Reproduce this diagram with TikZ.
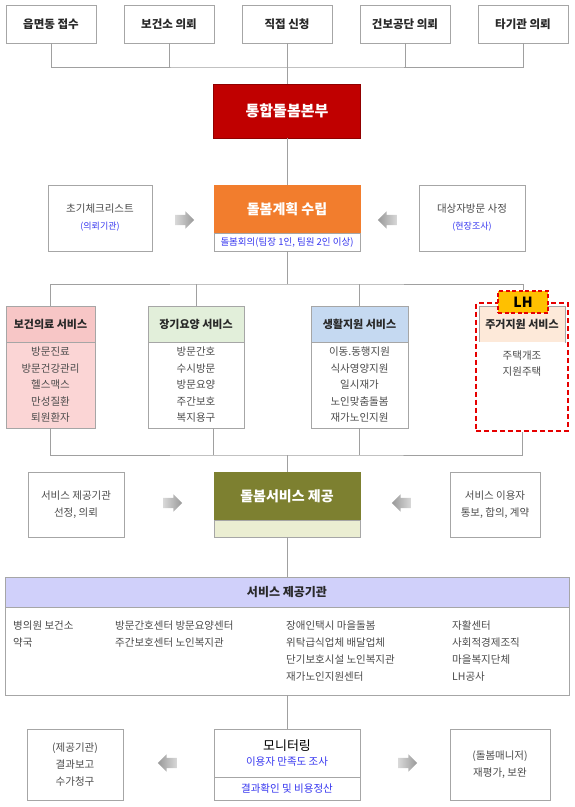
\documentclass[tikz,border=0pt]{standalone}
\usepackage{fontspec}
\setmainfont{Noto Sans CJK KR}
\usetikzlibrary{shapes,arrows,fit}

\definecolor{boxgray}{RGB}{166,166,166}
\definecolor{linegray}{RGB}{160,160,160}
\definecolor{txtdark}{RGB}{40,40,40}
\definecolor{txtgray}{RGB}{75,75,75}
\definecolor{bluetxt}{RGB}{55,55,240}
\definecolor{hqred}{RGB}{192,0,0}
\definecolor{planorange}{RGB}{242,125,45}
\definecolor{olive}{RGB}{125,128,48}
\definecolor{olivelight}{RGB}{235,238,210}
\definecolor{pinkhead}{RGB}{247,198,198}
\definecolor{pinkbody}{RGB}{251,213,213}
\definecolor{greenhead}{RGB}{226,239,218}
\definecolor{bluehead}{RGB}{197,217,241}
\definecolor{peachhead}{RGB}{253,233,217}
\definecolor{lavender}{RGB}{208,208,250}
\definecolor{lhgold}{RGB}{255,192,0}
\definecolor{lhred}{RGB}{230,0,0}

\tikzstyle{source} = [rectangle, draw=boxgray, line width=0.8pt, fill=white,
    minimum width=90pt, minimum height=38pt, inner sep=0pt, text=txtdark,
    font=\fontsize{11.5}{13}\selectfont\bfseries]
\tikzstyle{hq} = [rectangle, draw=hqred!75!black, line width=0.8pt, fill=hqred,
    minimum width=147pt, minimum height=54pt, inner sep=0pt, text=white,
    font=\fontsize{15}{17}\selectfont\bfseries]
\tikzstyle{plan} = [rectangle, draw=planorange, line width=0.8pt, fill=planorange,
    minimum width=146pt, minimum height=48pt, inner sep=0pt, text=white,
    font=\fontsize{14}{16}\selectfont\bfseries]
\tikzstyle{band} = [rectangle, draw=boxgray, line width=0.8pt, fill=white,
    minimum width=146pt, inner sep=0pt, text=bluetxt,
    font=\fontsize{9.5}{11}\selectfont]
\tikzstyle{side} = [rectangle, draw=boxgray, line width=0.8pt, fill=white,
    inner sep=0pt, align=center, text=txtgray,
    font=\fontsize{10.5}{17}\selectfont]
\tikzstyle{head} = [rectangle, draw=boxgray, line width=0.8pt,
    minimum height=36pt, inner sep=0pt, text=txtdark,
    font=\fontsize{11}{13}\selectfont\bfseries]
\tikzstyle{list} = [rectangle, draw=boxgray, line width=0.8pt, fill=white,
    minimum height=86pt, inner sep=0pt, align=center, text=txtgray,
    font=\fontsize{10.5}{16.5}\selectfont]
\tikzstyle{orgcol} = [inner sep=0pt, align=left, text=txtgray,
    font=\fontsize{10.5}{17}\selectfont]
\tikzstyle{rarrow} = [single arrow, draw=none, minimum height=19pt,
    single arrow head extend=3.5pt, inner sep=5pt,
    left color=gray!30, right color=gray!80]
\tikzstyle{larrow} = [single arrow, draw=none, minimum height=19pt,
    single arrow head extend=3.5pt, inner sep=5pt,
    shape border rotate=180, left color=gray!80, right color=gray!30]
\tikzstyle{lhframe} = [rectangle, draw=lhred, line width=2pt,
    dash pattern=on 5pt off 3pt, inner sep=2.5pt]
\tikzstyle{lhtag} = [rectangle, draw=lhred, line width=1.4pt,
    dash pattern=on 4pt off 2.5pt, fill=lhgold, minimum width=50pt,
    minimum height=22pt, inner sep=0pt, font=\fontsize{14}{16}\selectfont\bfseries]
\tikzstyle{line} = [draw=linegray, line width=0.8pt]

\begin{document}
\begin{tikzpicture}[x=1pt, y=1pt, node distance=61pt]
        \useasboundingbox (0,0) rectangle (574,-807);

        % Place nodes
        \node [source] (eup) at (51,-24) {읍면동 접수};
        \node [source, right of=eup, node distance=118pt] (clinic) {보건소 의뢰};
        \node [source, right of=clinic, node distance=118pt] (direct) {직접 신청};
        \node [source, right of=direct, node distance=118pt] (nhis) {건보공단 의뢰};
        \node [source, right of=nhis, node distance=118pt] (other) {타기관 의뢰};
        \node [hq] (hq) at (287,-111) {통합돌봄본부};

        \node [plan] (plan) at (287,-209) {돌봄계획 수립};
        \node [band, below of=plan, node distance=33pt, minimum height=18pt] (meeting) {돌봄회의(팀장 1인, 팀원 2인 이상)};
        \node [side, minimum width=104pt, minimum height=66pt] (check) at (100,-218)
            {초기체크리스트\\{\color{bluetxt}\fontsize{9}{10}\selectfont (의뢰기관)}};
        \node [side, minimum width=106pt, minimum height=66pt] (visit) at (472,-218)
            {대상자방문 사정\\{\color{bluetxt}\fontsize{9}{10}\selectfont (현장조사)}};
        \node [rarrow] (arrcheck) at (182,-220) {};
        \node [larrow] (arrvisit) at (390,-220) {};

        \node [head, fill=pinkhead, minimum width=89pt] (health) at (50.5,-324) {보건의료 서비스};
        \node [list, fill=pinkbody, minimum width=89pt, below of=health] (healthlist) {방문진료\\방문건강관리\\헬스맥스\\만성질환\\퇴원환자};
        \node [head, fill=greenhead, minimum width=96pt] (care) at (196,-324) {장기요양 서비스};
        \node [list, minimum width=96pt, below of=care] (carelist) {방문간호\\수시방문\\방문요양\\주간보호\\복지용구};
        \node [head, fill=bluehead, minimum width=97pt] (living) at (359.5,-324) {생활지원 서비스};
        \node [list, minimum width=97pt, below of=living] (livinglist) {이동.동행지원\\식사영양지원\\일시재가\\노인맞춤돌봄\\재가노인지원};
        \node [head, fill=peachhead, minimum width=86pt] (house) at (522,-324) {주거지원 서비스};
        \node [list, draw=none, minimum width=86pt, below of=house, text depth=44pt] (houselist) {주택개조\\지원주택};
        \node [lhframe, fit=(house)(houselist)] (housebox) {};
        \node [lhtag] (lh) at (523,-302) {LH};

        \node [plan, fill=olive, draw=olive, minimum width=146pt] (provide) at (287,-496) {돌봄서비스 제공};
        \node [band, fill=olivelight, below of=provide, node distance=32.5pt, minimum height=17pt] (provideband) {};
        \node [side, minimum width=96pt, minimum height=65pt] (choose) at (76,-504.5) {서비스 제공기관\\선정, 의뢰};
        \node [side, minimum width=90pt, minimum height=65pt] (agree) at (495,-504.5) {서비스 이용자\\통보, 합의, 계약};
        \node [rarrow] (arrchoose) at (170,-503) {};
        \node [larrow] (arragree) at (404,-503) {};

        \node [head, fill=lavender, minimum width=564pt, minimum height=30pt,
            font=\fontsize{12}{14}\selectfont\bfseries] (org) at (287,-592) {서비스 제공기관};
        \node [list, minimum width=564pt, minimum height=88pt, below of=org, node distance=59pt] (orglist) {};
        \node [orgcol, anchor=north west] (orgmed) at (13,-621) {병의원 보건소\\약국};
        \node [orgcol, anchor=north west] (orgcare) at (115,-621) {방문간호센터 방문요양센터\\주간보호센터 노인복지관};
        \node [orgcol, anchor=north west] (orgliving) at (286,-621) {장애인택시 마을돌봄\\위탁급식업체 배달업체\\단기보호시설 노인복지관\\재가노인지원센터};
        \node [orgcol, anchor=north west] (orgsocial) at (452,-621) {자활센터\\사회적경제조직\\마을복지단체\\LH공사};

        \node [side, minimum width=146pt, minimum height=48pt, text=black] (monitor) at (287,-753)
            {{\fontsize{13}{15}\selectfont 모니터링}\\[-2pt]{\color{bluetxt}\fontsize{10.5}{12}\selectfont 이용자 만족도 조사}};
        \node [band, below of=monitor, node distance=35.5pt, minimum height=23pt,
            font=\fontsize{10.5}{12}\selectfont] (settle) {결과확인 및 비용정산};
        \node [side, minimum width=96pt, minimum height=71pt] (report) at (75,-764.5) {(제공기관)\\결과보고\\수가청구};
        \node [side, minimum width=100pt, minimum height=71pt] (review) at (500,-764.5) {(돌봄매니저)\\재평가, 보완};
        \node [larrow] (arrreport) at (170,-763) {};
        \node [rarrow] (arrreview) at (405,-763) {};

        % Draw edges
        \coordinate (bus1) at (287,-67);
        \coordinate (bus2) at (287,-284);
        \coordinate (bus3) at (287,-455);
        \path [line] (eup.south) |- (bus1) -| (other.south);
        \path [line] (clinic.south) -- (clinic.south |- bus1);
        \path [line] (nhis.south) -- (nhis.south |- bus1);
        \path [line] (direct.south) -- (hq.north);
        \path [line] (hq.south) -- (plan.north);
        \path [line] (meeting.south) -- (bus2);
        \path [line] (health.north) |- (bus2) -| (lh.north);
        \path [line] (care.north) -- (care.north |- bus2);
        \path [line] (living.north) -- (living.north |- bus2);
        \path [line] (healthlist.south) |- (bus3) -| (housebox.south);
        \path [line] (carelist.south -| provide.west) -- (provide.west |- bus3);
        \path [line] (livinglist.south) -- (livinglist.south |- bus3);
        \path [line] (bus3) -- (provide.north);
        \path [line] (provideband.south) -- (org.north);
        \path [line] (orglist.south) -- (monitor.north);
    \end{tikzpicture}
\end{document}
